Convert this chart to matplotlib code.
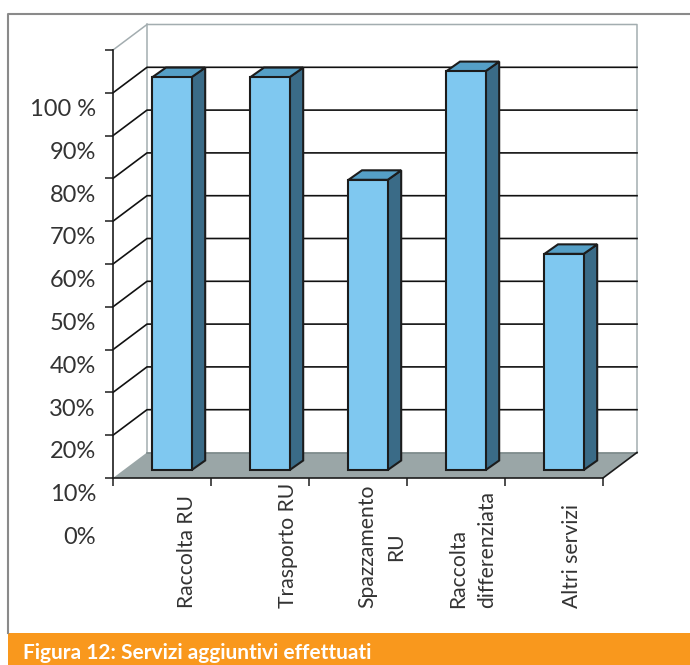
import matplotlib
matplotlib.use("Agg")
import matplotlib.pyplot as plt
from matplotlib.lines import Line2D
from matplotlib.patches import Polygon, Rectangle
from matplotlib.transforms import ScaledTranslation

# -------------------- DATA --------------------
categories = ["Raccolta RU", "Trasporto RU", "Spazzamento\nRU", "Raccolta\ndifferenziata", "Altri servizi"]
values = [91.8, 91.8, 67.8, 93.2, 50.5]
y_ticks = [0, 10, 20, 30, 40, 50, 60, 70, 80, 90, 100]
y_tick_labels = ["0%", "10%", "20%", "30%", "40%", "50%", "60%", "70%", "80%", "90%", "100 %"]

# -------------------- STYLE --------------------
W, H = 690, 665
PX_X = 98.0    # pixels per category
PX_Y = 4.28    # pixels per percent
depth_x = 34 / PX_X
depth_y = 25.5 / PX_Y
bar_dx = 13.5 / PX_X
bar_dy = 9.5 / PX_Y
bar_base = 8 / PX_Y
bar_width = 0.40
bar_offset = 0.403

edge = "#1c1c1c"
wall = "#a3adb0"
text_col = "#333333"

plt.rcParams["font.family"] = ["Lato", "DejaVu Sans"]

fig = plt.figure(figsize=(W / 100, H / 100), dpi=100)
ax = fig.add_axes([113 / W, (H - 478) / H, 490 / W, 428 / H])
ax.set_xlim(0, 5)
ax.set_ylim(0, 100)
ax.patch.set_alpha(0)
for s in ["top", "right"]:
    ax.spines[s].set_visible(False)
for s in ["left", "bottom"]:
    ax.spines[s].set_color(edge)
    ax.spines[s].set_linewidth(1.2)

# --- back wall and floor ---
ax.add_patch(Polygon([(0, 0), (depth_x, depth_y), (5 + depth_x, depth_y), (5, 0)],
                     closed=True, fc="#9aa6a7", ec="none", clip_on=False, zorder=1))
ax.plot([depth_x, 5 + depth_x], [depth_y, depth_y], color="#7d8a8b", lw=1.2, clip_on=False, zorder=1.2)
ax.plot([0, depth_x, 5 + depth_x, 5 + depth_x], [100, 100 + depth_y, 100 + depth_y, depth_y],
        color=wall, lw=1.1, clip_on=False, zorder=1)
ax.plot([depth_x, depth_x], [depth_y, 100 + depth_y], color=wall, lw=1.1, clip_on=False, zorder=1)
ax.plot([5, 5 + depth_x], [0, depth_y], color=edge, lw=1.2, clip_on=False, zorder=1.5)

for v in y_ticks[1:-1]:
    ax.plot([0, depth_x, 5 + depth_x], [v, v + depth_y, v + depth_y],
            color="#111111", lw=1.2, clip_on=False, zorder=1.5)

# --- bars: front face through bar(), side and top faces follow its value ---
for i, v in enumerate(values):
    x0 = i + bar_offset
    x1 = x0 + bar_width
    top = bar_base + v
    ax.add_patch(Polygon([(x1, bar_base), (x1 + bar_dx, bar_base + bar_dy), (x1 + bar_dx, top + bar_dy), (x1, top)],
                         closed=True, fc="#3a6b87", ec=edge, lw=1.5, zorder=3, clip_on=False))
    ax.add_patch(Polygon([(x0, top), (x0 + bar_dx, top + bar_dy), (x1 + bar_dx, top + bar_dy), (x1, top)],
                         closed=True, fc="#559fc6", ec=edge, lw=1.5, zorder=3, clip_on=False))
ax.bar([i + bar_offset for i in range(len(values))], values, width=bar_width, bottom=bar_base, align="edge",
       color="#7fc8f0", edgecolor=edge, linewidth=1.5, zorder=4, clip_on=False)

# --- y axis: labels sit well below their ticks ---
ax.set_yticks(y_ticks)
ax.set_yticklabels(y_tick_labels, fontsize=17, color=text_col)
ax.tick_params(axis="y", length=5.8, width=1.1, color=edge, pad=6.5)
for lab in ax.get_yticklabels():
    lab.set_transform(lab.get_transform() + ScaledTranslation(0, -57.5 / 100, fig.dpi_scale_trans))

# --- x axis: ticks on category edges, labels on minor ticks ---
ax.set_xticks(range(6))
ax.set_xticklabels([])
ax.set_xticks([i + 0.5 for i in range(5)], minor=True)
ax.set_xticklabels(categories, minor=True, rotation=90, fontsize=15.2, color=text_col, va="bottom", ha="center",
                   linespacing=1.55)
ax.tick_params(axis="x", which="major", length=5.8, width=1.1, color=edge)
ax.tick_params(axis="x", which="minor", length=0, pad=0)
shifts = [25, 28, 24, 17, 18]
aligns = ["center", "center", "center", "left", "center"]
for lab, sh, al in zip(ax.get_xticklabels(minor=True), shifts, aligns):
    lab.set_multialignment(al)
    lab.set_transform(lab.get_transform() + ScaledTranslation(sh / 100, -130 / 100, fig.dpi_scale_trans))

# --- page frame and caption band ---
fig.add_artist(Line2D([8 / W, 8 / W, 1], [(H - 633) / H, (H - 14) / H, (H - 14) / H],
                      color="#8a8a8a", lw=1.5))
fig.add_artist(Rectangle((8 / W, 0), (W - 8) / W, 32 / H, transform=fig.transFigure, fc="#f9981d", ec="none"))
fig.text(23 / W, (H - 653) / H, "Figura 12: Servizi aggiuntivi effettuati", color="white",
         fontsize=15, fontweight="bold", va="center", ha="left")

fig.savefig("out.png", dpi=100)
